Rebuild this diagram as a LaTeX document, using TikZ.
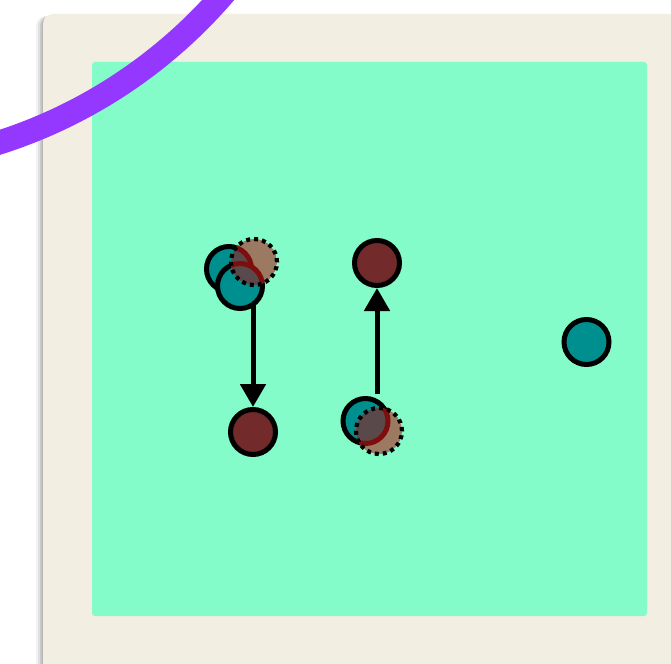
\documentclass[tikz,border=0pt]{standalone}
\usetikzlibrary{arrows.meta}
\definecolor{paper}{HTML}{F2EEE1}
\definecolor{field}{HTML}{84FCC9}
\definecolor{sweep}{HTML}{9437FF}
\definecolor{tealc}{HTML}{008F8F}
\definecolor{wine}{HTML}{722A2A}
\definecolor{ghostfill}{HTML}{9C7A62}
\definecolor{ghostdark}{HTML}{5A494B}
\definecolor{ghostedge}{HTML}{7E0E0E}
\tikzset{
  dot/.style={circle, minimum size=45pt, inner sep=0pt, line width=5pt, draw=black},
  tealdot/.style={dot, fill=tealc},
  winedot/.style={dot, fill=wine},
  ghost/.style={circle, minimum size=46pt, inner sep=0pt},
  ghostring/.style={draw=black, line width=4.2pt, dash pattern=on 4pt off 4pt},
  move/.style={line width=5pt, -{Triangle[width=25pt,length=23pt]}, shorten <=37pt},
}
\begin{document}
\begin{tikzpicture}[x=1pt,y=-1pt]
\useasboundingbox (0,0) rectangle (671,663);
\clip (0,0) rectangle (671,663);
\fill[white] (0,0) rectangle (671,663);
% soft shadow under the sheet
\foreach \d/\o in {7/0.05,5/0.07,3/0.09,1.5/0.10}
  \fill[black, opacity=\o, rounded corners=10pt] (43-\d,16) rectangle (700,700);
% sheet and field
\fill[paper, rounded corners=10pt] (43,14) rectangle (700,700);
\fill[field, rounded corners=3pt] (92,62) rectangle (647,616);
% sweeping arc
\draw[sweep, line width=24pt] (-152,-330) circle[radius=496pt];

% positions
\node[ghost] (g1) at (254,262) {};
\node[ghost] (g2) at (379,431) {};
\node[winedot] (r1) at (253,432) {};
\node[winedot] (r2) at (377,263) {};

% moves
\draw[move] (r1 |- g1.center) -- (r1);
\draw[move] (r2 |- g2.center) -- (r2);

% first group
\node[tealdot] (a1) at (229,269) {};
\node[tealdot] (b1) at (240,286) {};
\begin{scope}
  \clip (g1.center) circle[radius=23pt];
  \fill[ghostfill] (g1.center) circle[radius=23pt];
  \fill[ghostdark] (a1.center) circle[radius=22.5pt];
  \draw[ghostedge, line width=5pt] (a1.center) circle[radius=22.5pt];
  \fill[ghostdark] (b1.center) circle[radius=22.5pt];
  \draw[ghostedge, line width=5pt] (b1.center) circle[radius=22.5pt];
\end{scope}
\draw[ghostring] (g1.center) circle[radius=23pt];

% second group
\node[tealdot] (c1) at (365.5,421) {};
\begin{scope}
  \clip (g2.center) circle[radius=23pt];
  \fill[ghostfill] (g2.center) circle[radius=23pt];
  \fill[ghostdark] (c1.center) circle[radius=22.5pt];
  \draw[ghostedge, line width=5pt] (c1.center) circle[radius=22.5pt];
\end{scope}
\draw[ghostring] (g2.center) circle[radius=23pt];

% lone point
\node[tealdot] (d1) at (586.5,342) {};
\end{tikzpicture}
\end{document}
